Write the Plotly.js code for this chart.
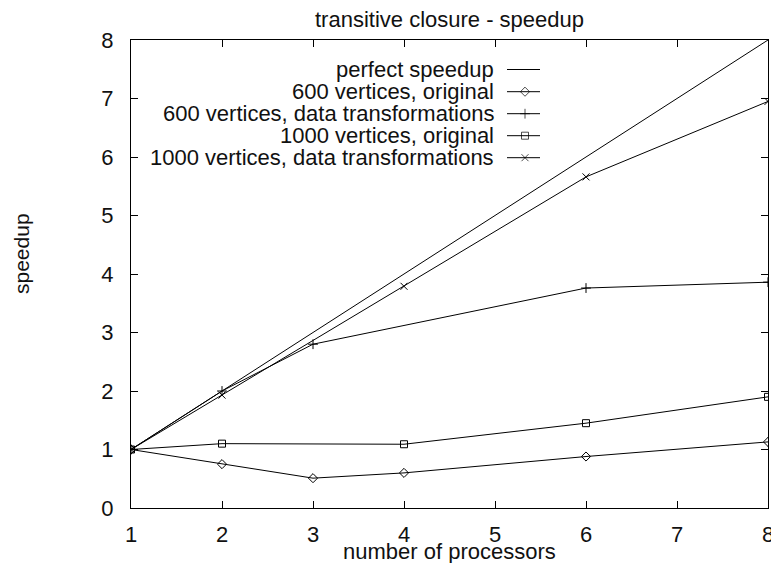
<!DOCTYPE html>
<html>
<head>
<meta charset="utf-8">
<script src="https://cdn.plot.ly/plotly-3.0.1.min.js"></script>
<style>html,body{margin:0;padding:0;background:#fff}#chart{width:771px;height:563px}</style>
</head>
<body>
<div id="chart"></div>
<script>
// ---- data ----
const perfectX = [1, 2, 3, 4, 6, 8];
const perfectY = [1, 2, 3, 4, 6, 8];
const v600OrigX = [1, 2, 3, 4, 6, 8];
const v600OrigY = [1, 0.75, 0.51, 0.60, 0.88, 1.13];
const v600DtX = [1, 2, 3, 6, 8];
const v600DtY = [1, 2.0, 2.8, 3.76, 3.86];
const v1000OrigX = [1, 2, 4, 6, 8];
const v1000OrigY = [1, 1.10, 1.09, 1.45, 1.90];
const v1000DtX = [1, 2, 4, 6, 8];
const v1000DtY = [1, 1.93, 3.79, 5.66, 6.95];
const seriesNames = ["perfect speedup", "600 vertices, original", "600 vertices, data transformations", "1000 vertices, original", "1000 vertices, data transformations"];
const seriesSymbols = [null, "diamond-open", "cross-thin-open", "square-open", "x-thin-open"];
const xTicks = [1, 2, 3, 4, 5, 6, 7, 8];
const yTicks = [0, 1, 2, 3, 4, 5, 6, 7, 8];

const FONT = "Liberation Sans, Arial, sans-serif";
const LC = "#000";
const TC = "#111";
const seriesX = [perfectX, v600OrigX, v600DtX, v1000OrigX, v1000DtX];
const seriesY = [perfectY, v600OrigY, v600DtY, v1000OrigY, v1000DtY];

// plot-area pixel geometry (for placing layout text)
const PL = 131, PR = 768, PT = 40, PB = 508;
const px2paperX = p => (p - PL) / (PR - PL);
const px2paperY = p => (PB - p) / (PB - PT);

const traces = [];
seriesX.forEach((xs, i) => {
  const sym = seriesSymbols[i];
  const t = {
    x: xs, y: seriesY[i], type: "scatter",
    mode: sym ? "lines+markers" : "lines",
    line: {color: LC, width: 1},
    showlegend: false, hoverinfo: "x+y"
  };
  if (sym) t.marker = {symbol: sym, size: 7, color: LC, line: {color: LC, width: 1}};
  traces.push(t);
});

// custom gnuplot-style legend (text right-aligned, sample on the right)
const legRowY = [69.5, 91.7, 113.7, 135.7, 157.7];
const legTextX = 496, legL = 507, legM = 525, legR = 540;
const annotations = [];
seriesNames.forEach((nm, i) => {
  annotations.push({
    xref: "x2", yref: "y2", x: legTextX, y: legRowY[i], text: nm,
    showarrow: false, xanchor: "right", yanchor: "middle",
    font: {family: FONT, size: 22, color: TC}
  });
  const sym = seriesSymbols[i];
  const t = {
    x: [legL, legM, legR], y: [legRowY[i], legRowY[i], legRowY[i]],
    xaxis: "x2", yaxis: "y2", type: "scatter",
    mode: sym ? "lines+markers" : "lines",
    line: {color: LC, width: 1},
    showlegend: false, hoverinfo: "skip"
  };
  if (sym) t.marker = {symbol: sym, size: [0, 7, 0], color: LC, line: {color: LC, width: 1}};
  traces.push(t);
});
// axis titles
annotations.push({
  xref: "paper", yref: "paper", x: px2paperX(21), y: px2paperY(254),
  text: "speedup", textangle: -90, showarrow: false,
  xanchor: "center", yanchor: "middle",
  font: {family: FONT, size: 21, color: TC}
});
annotations.push({
  xref: "paper", yref: "paper", x: px2paperX(450), y: px2paperY(551),
  text: "number of processors", showarrow: false,
  xanchor: "center", yanchor: "middle",
  font: {family: FONT, size: 22, color: TC}
});

const layout = {
  width: 771, height: 563,
  margin: {l: PL, r: 771 - PR, t: PT, b: 563 - PB, pad: 0},
  paper_bgcolor: "#fff", plot_bgcolor: "#fff",
  showlegend: false,
  font: {family: FONT, size: 22, color: TC},
  title: {
    text: "transitive closure - speedup",
    x: 449.5 / 771, xref: "container", xanchor: "center",
    y: 1 - 19 / 563, yref: "container", yanchor: "middle",
    font: {family: FONT, size: 22, color: TC}
  },
  xaxis: {
    range: [1, 8], tickvals: xTicks, ticktext: xTicks.map(String),
    showgrid: false, zeroline: false, showline: true, linecolor: "#000", linewidth: 1,
    mirror: "ticks", ticks: "inside", ticklen: 7, tickcolor: "#000",
    tickfont: {family: FONT, size: 22}, ticklabelstandoff: 7, ticklabeloverflow: "allow"
  },
  yaxis: {
    range: [0, 8], tickvals: yTicks, ticktext: yTicks.map(String),
    showgrid: false, zeroline: false, showline: true, linecolor: "#000", linewidth: 1,
    mirror: "ticks", ticks: "inside", ticklen: 7, tickcolor: "#000",
    tickfont: {family: FONT, size: 22}, ticklabelstandoff: 12
  },
  xaxis2: {overlaying: "x", range: [PL, PR], visible: false, fixedrange: true},
  yaxis2: {overlaying: "y", range: [PB, PT], visible: false, fixedrange: true},
  annotations: annotations
};

Plotly.newPlot("chart", traces, layout, {displayModeBar: false, staticPlot: true});
</script>
</body>
</html>
